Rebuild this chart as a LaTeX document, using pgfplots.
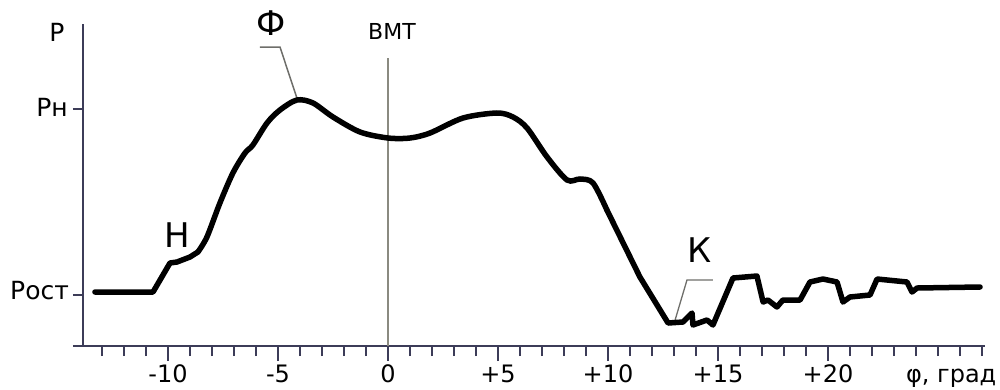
\documentclass[border=0pt]{standalone}
\usepackage{pgfplots}
\pgfplotsset{compat=1.18}
\usepackage{fontspec}
\setmainfont{DejaVu Sans}
\definecolor{axcol}{HTML}{3C3C58}
\definecolor{vmtcol}{HTML}{8A8A80}
\definecolor{leadcol}{HTML}{6E6E6A}
\begin{document}
\begin{tikzpicture}
\begin{axis}[
  x=22pt, y=1pt, scale only axis,
  xmin=-14.32, xmax=27.14, ymin=0, ymax=322,
  clip=false,
  hide y axis,
  axis x line*=bottom,
  x axis line style={line width=2pt, color=axcol},
  xtick={-10,-5,0,5,10,15,20},
  xticklabels={-10,-5,0,+5,+10,+15,+20},
  minor xtick={-13,...,27},
  tick align=outside,
  major tick length=15pt, minor tick length=10pt,
  every tick/.style={line width=1.6pt, color=axcol},
  every minor tick/.style={line width=1.6pt, color=axcol},
  xticklabel style={anchor=base, yshift=-21pt, font=\fontsize{24}{28}\selectfont},
  /pgf/number format/assume math mode=true,
]
% y axis line and ticks
\draw[line width=2pt, color=axcol] (axis cs:-13.86,0) -- (axis cs:-13.86,322);
\draw[line width=1.6pt, color=axcol] (axis cs:-14.32,237) -- (axis cs:-13.86,237);
\draw[line width=1.6pt, color=axcol] (axis cs:-14.32,51) -- (axis cs:-13.86,51);
% BMT line
\draw[line width=2pt, color=vmtcol] (axis cs:0,0) -- (axis cs:0,288);
% leaders
\draw[line width=1.5pt, color=leadcol] (axis cs:-5.82,299) -- (axis cs:-4.91,299) -- (axis cs:-4.14,248);
\draw[line width=1.3pt, color=leadcol] (axis cs:13.05,26) -- (axis cs:13.59,66) -- (axis cs:14.77,66);
% curve
\addplot[black, line width=5.5pt, line join=round, line cap=round] coordinates {
(-13.32,54) (-10.68,54) (-9.91,83) (-9.59,84) (-9.0,89) (-8.64,94)};
\addplot[black, line width=5.5pt, smooth, tension=0.5, line cap=round] coordinates {
(-8.64,94) (-8.23,109) (-7.64,143) (-7.05,173) (-6.5,193) (-6.14,201) (-5.5,223)
(-4.91,236) (-4.14,246) (-3.41,243) (-2.5,229) (-1.27,214) (0,208) (1.0,208)
(1.91,213) (3.41,228) (4.95,233) (5.68,229) (6.32,218) (7.23,189) (8.14,166)
(8.73,167) (9.32,163) (9.95,136)};
\addplot[black, line width=5.5pt, line join=round, line cap=round] coordinates {
(9.95,136) (11.45,69) (12.73,23) (13.41,24) (13.82,33) (13.86,21) (14.5,26)
(14.77,21) (15.68,68) (16.77,70) (17.05,44) (17.27,46) (17.68,39) (17.95,46)
(18.73,46) (19.18,64) (19.77,67) (20.41,64) (20.68,44) (21.0,49) (21.91,51)
(22.23,67) (23.59,64) (23.82,54) (24.05,58) (26.91,59)};
% labels
\node[font=\fontsize{25}{30}\selectfont] at (axis cs:-15.05,314) {Р};
\node[anchor=east, inner sep=1pt, font=\fontsize{25}{30}\selectfont] at (axis cs:-14.5,239) {Рн};
\node[anchor=east, inner sep=1pt, font=\fontsize{25}{30}\selectfont] at (axis cs:-14.45,55) {Рост};
\node[font=\fontsize{34}{40}\selectfont] at (axis cs:-5.32,323) {Ф};
\node[font=\fontsize{22}{26}\selectfont] at (axis cs:0.18,315) {ВМТ};
\node[font=\fontsize{34}{40}\selectfont] at (axis cs:-9.59,111) {Н};
\node[font=\fontsize{34}{40}\selectfont] at (axis cs:14.18,96) {К};
\node[anchor=base, font=\fontsize{24}{28}\selectfont] at (axis cs:25.6,-36) {φ, град};
\coordinate (bl) at (axis cs:-17.636,-43);
\coordinate (tr) at (axis cs:27.818,346);
\end{axis}
\pgfresetboundingbox
\path (bl) rectangle (tr);
\end{tikzpicture}
\end{document}
